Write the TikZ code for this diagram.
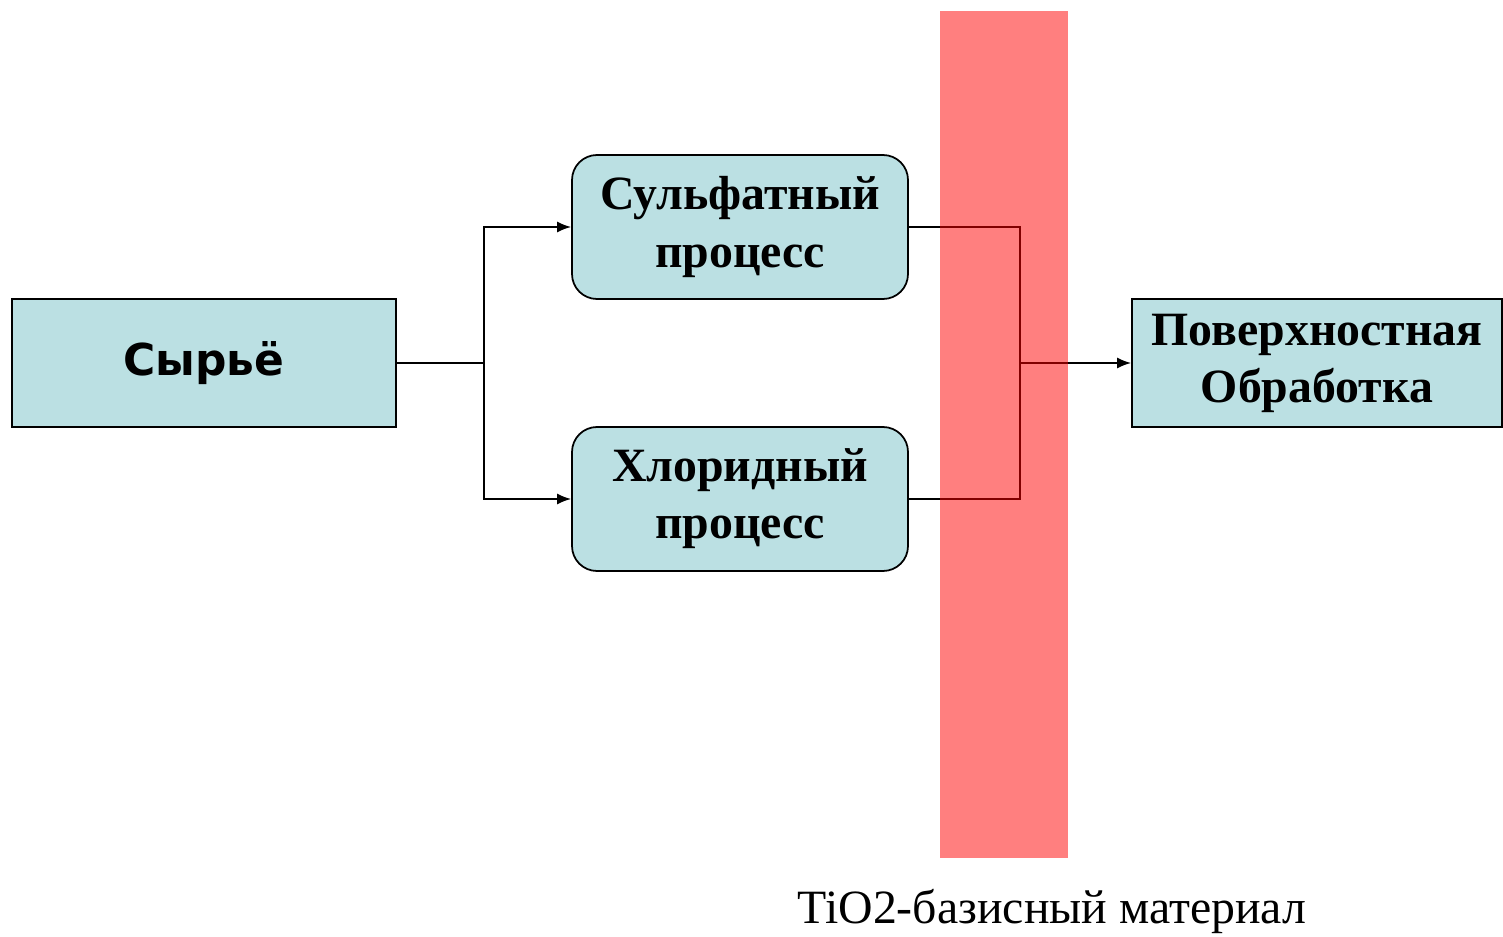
\documentclass[tikz,border=0pt]{standalone}
\usepackage{fontspec}
\setmainfont{Liberation Serif}
\setsansfont{DejaVu Sans}
\usetikzlibrary{arrows.meta,positioning}
\definecolor{boxfill}{RGB}{187,224,227}
\begin{document}
\begin{tikzpicture}[b/.style={draw,line width=1pt,fill=boxfill,align=center,font=\fontsize{27.2}{32.5}\selectfont\bfseries},>={Latex[length=2.8mm,width=2.2mm]},line width=1pt]
\useasboundingbox (0,0) rectangle (30.06,18.72);
\node[b,minimum width=7.68cm,minimum height=2.56cm,font=\fontsize{25}{30}\selectfont\sffamily\bfseries] (raw) at (4.08,11.46) {Сырьё};
\node[b,rounded corners=0.5cm,minimum width=6.72cm,minimum height=2.88cm] (sulf) at (14.8,14.18) {Сульфатный\\процесс};
\node[b,rounded corners=0.5cm,minimum width=6.72cm,minimum height=2.88cm] (chlor) at (14.8,8.74) {Хлоридный\\процесс};
\node[b,minimum width=7.4cm,minimum height=2.56cm] (surf) at (26.34,11.46) {Поверхностная\\Обработка};
\coordinate (split) at (9.68,11.46);
\coordinate (merge) at (20.4,11.46);
\draw (raw)--(split);
\draw[->] (split)|-(sulf);
\draw[->] (split)|-(chlor);
\draw (sulf)-|(merge);
\draw (chlor)-|(merge);
\draw[->] (merge)--(surf);
% полоса поверх линий
\fill[red,opacity=0.5] (18.8,1.56) rectangle (21.36,18.5);
\node[font=\fontsize{27.2}{32}\selectfont] (lbl) at (21.04,0.5) {TiO2-базисный материал};
\end{tikzpicture}
\end{document}
